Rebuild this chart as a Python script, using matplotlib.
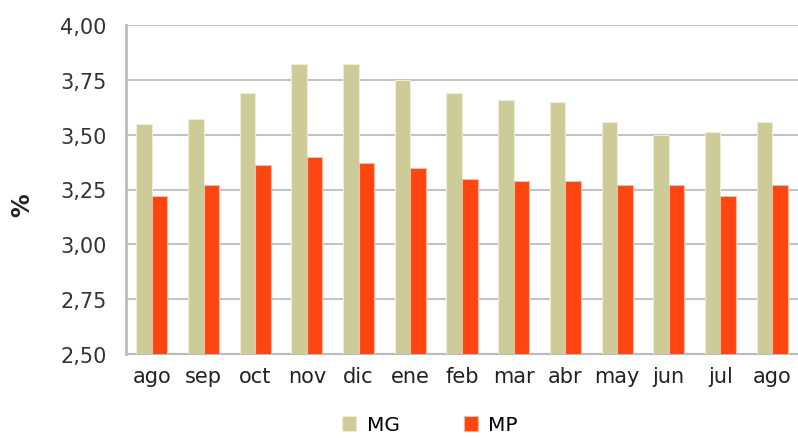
import matplotlib
matplotlib.use("Agg")
import matplotlib.pyplot as plt
import numpy as np

categories = ["ago", "sep", "oct", "nov", "dic", "ene", "feb", "mar", "abr", "may", "jun", "jul", "ago"]
mg = [3.55, 3.57, 3.69, 3.82, 3.82, 3.75, 3.69, 3.66, 3.65, 3.56, 3.50, 3.51, 3.56]
mp = [3.22, 3.27, 3.36, 3.40, 3.37, 3.35, 3.30, 3.29, 3.29, 3.27, 3.27, 3.22, 3.27]
yticks = [2.50, 2.75, 3.00, 3.25, 3.50, 3.75, 4.00]

plt.rcParams['font.family'] = ['DejaVu Sans']

fig = plt.figure(figsize=(7.98, 4.39), dpi=100)
ax = fig.add_axes([126/798, 1-355/439, 1-126/798, (355-26)/439])

x = np.arange(len(categories))
w = 0.3
ax.bar(x - w/2, mg, width=w, color="#CDCC98", edgecolor="#EDEDD5", linewidth=0.8, label="MG", zorder=3)
ax.bar(x + w/2, mp, width=w, color="#FF4510", edgecolor="#FFB8A0", linewidth=0.8, label="MP", zorder=3)

ax.set_ylim(2.5, 4.0)
ax.set_xlim(-0.5, len(categories) - 0.5)
ax.set_yticks(yticks)
ax.set_yticklabels([f"{v:.2f}".replace(".", ",") for v in yticks], fontsize=15, color="#333333")
ax.set_xticks(x)
ax.set_xticklabels(categories, fontsize=15, color="#222222")
ax.tick_params(axis="y", length=0, pad=14)
ax.tick_params(axis="x", length=0, pad=9)
ax.yaxis.grid(True, color="#C4C4C4", linewidth=1.5, zorder=0)
ax.set_axisbelow(True)
for s in ["top", "right"]:
    ax.spines[s].set_visible(False)
ax.spines["left"].set_color("#BBBBBB")
ax.spines["left"].set_linewidth(2)
ax.spines["bottom"].set_color("#BBBBBB")
ax.spines["bottom"].set_linewidth(1.5)

fig.text(22/798, 1-205/439, "%", rotation=90, fontsize=17, fontweight="bold", ha="center", va="center", color="#222222")

fig.legend(loc="center", bbox_to_anchor=(430/798, 1-426/439), ncol=2, frameon=False,
           fontsize=14.5, handlelength=0.7, handleheight=0.7, columnspacing=3.2, handletextpad=0.5,
           borderpad=0.2)

fig.savefig("out.png", dpi=100)
